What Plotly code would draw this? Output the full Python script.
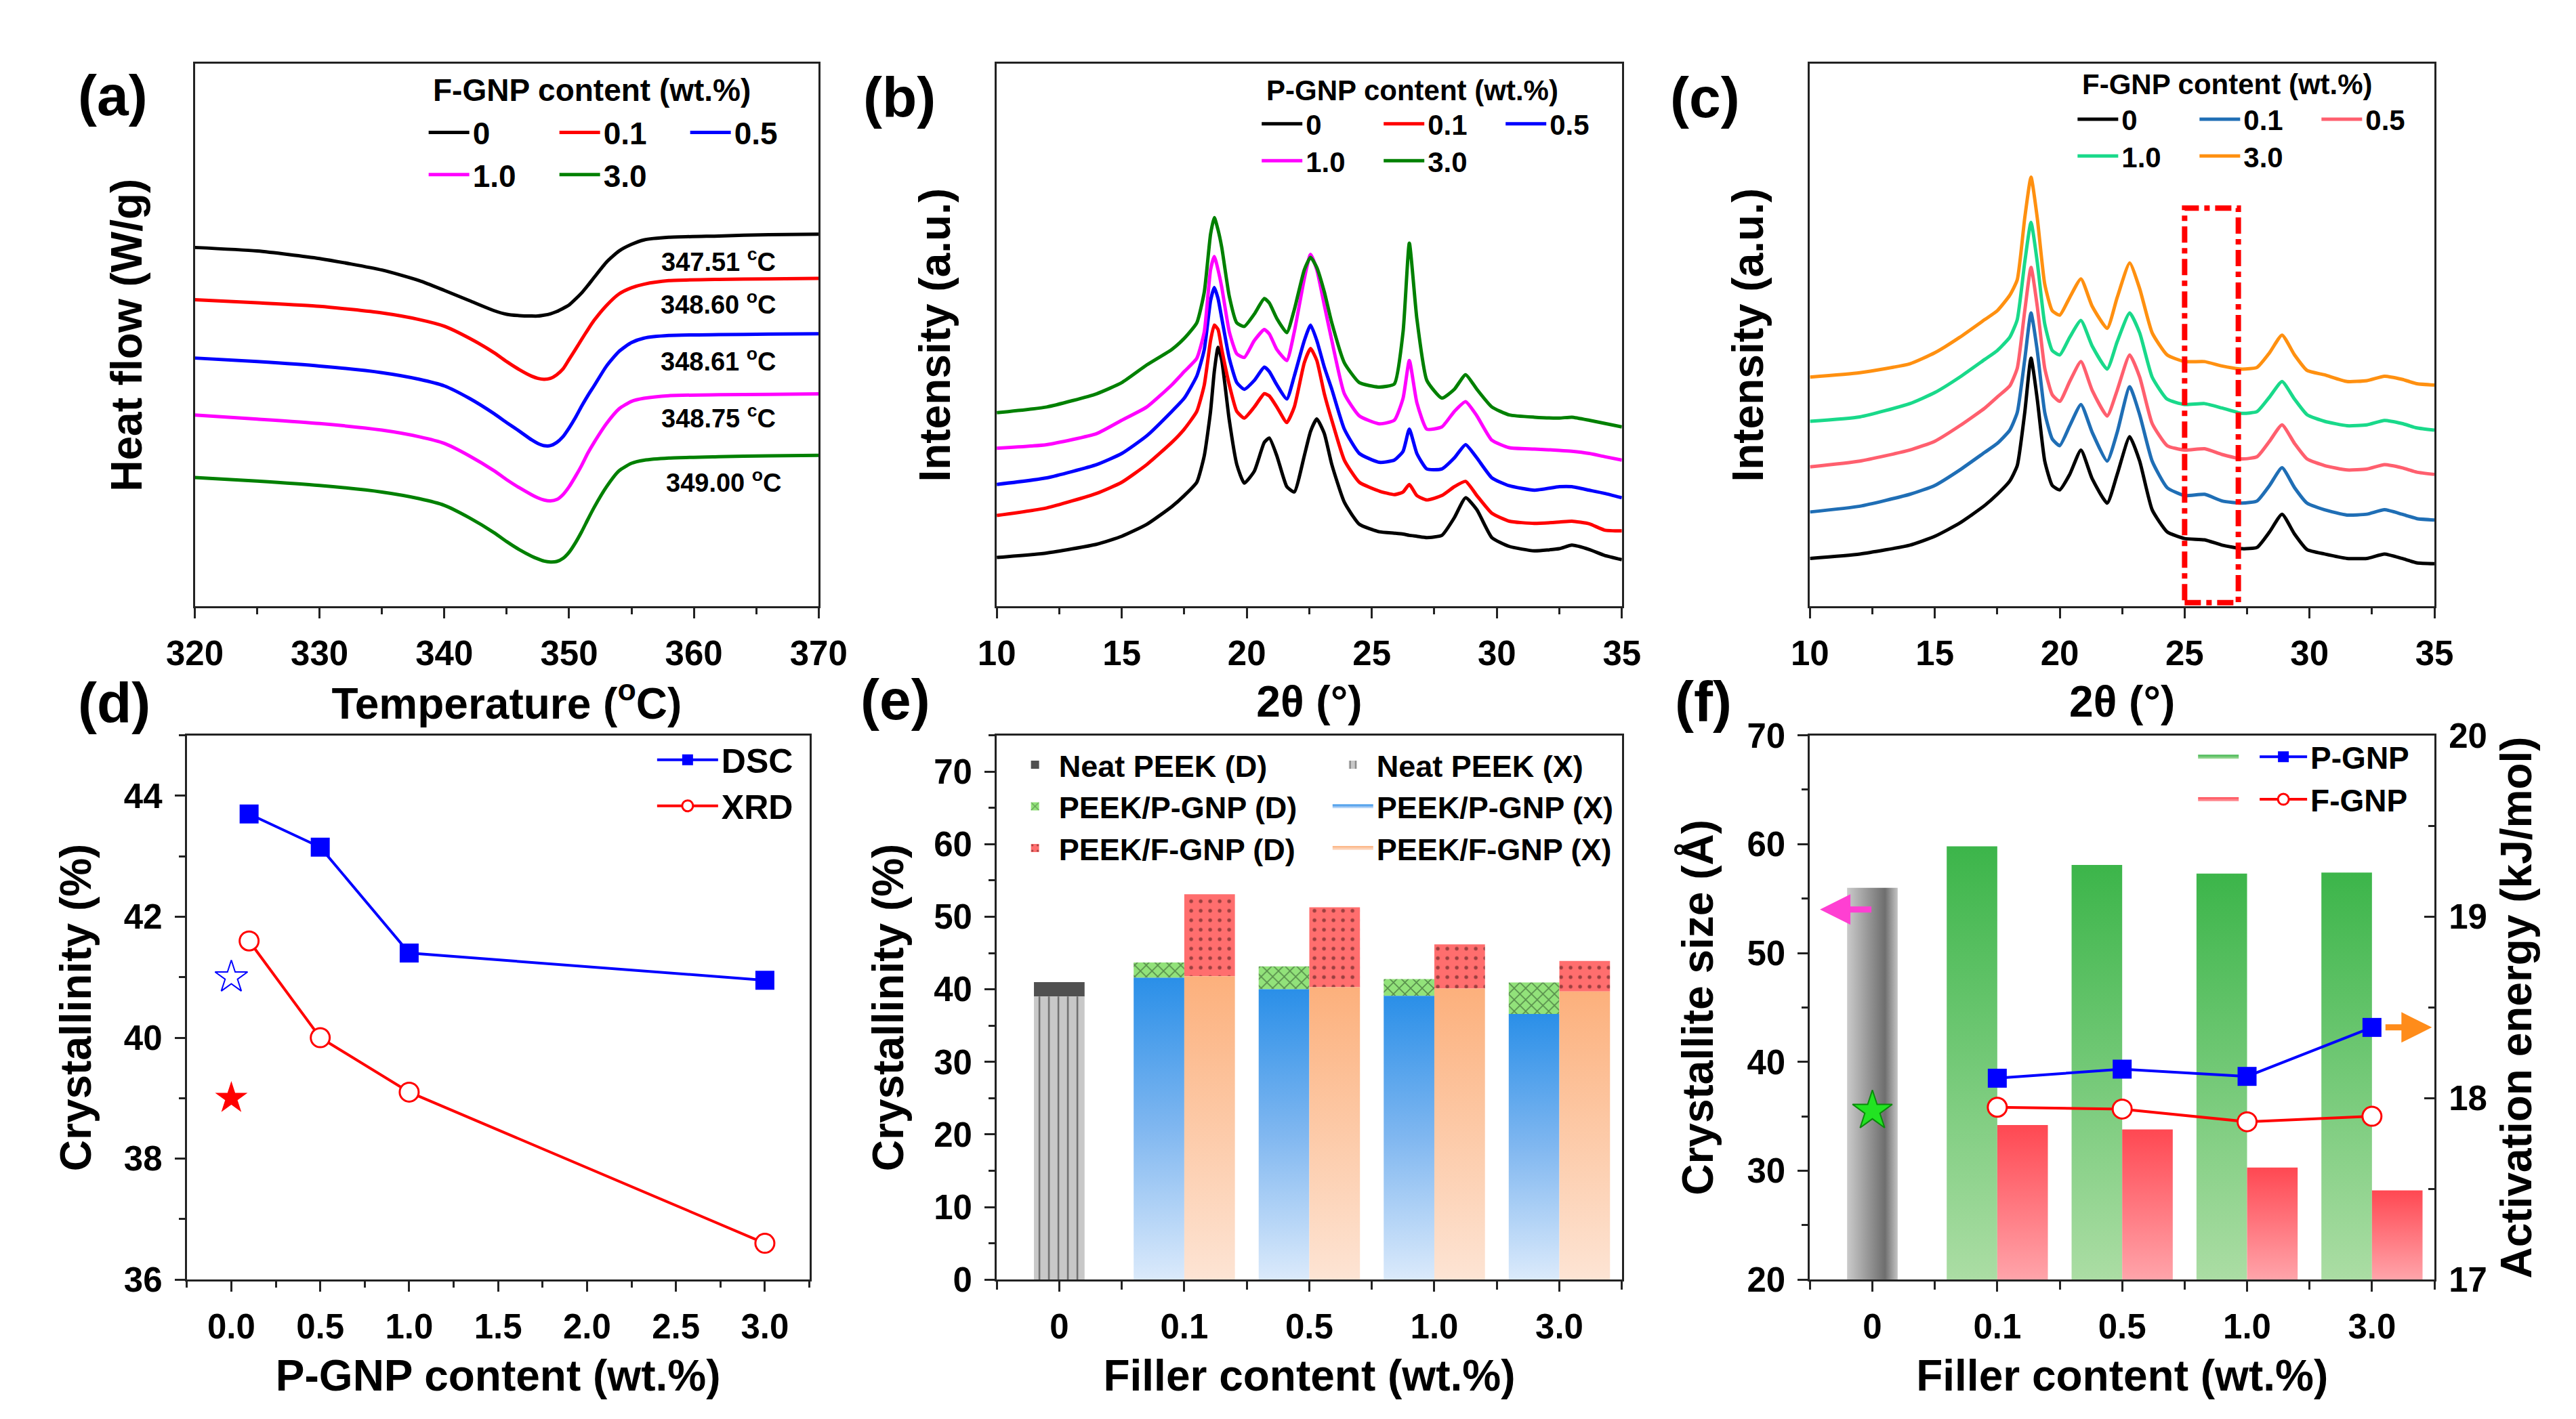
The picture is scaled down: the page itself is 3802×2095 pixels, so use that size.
import plotly.graph_objects as go

# ---------------- (a) DSC melting curves (heat flow in arbitrary units) ----------------
dsc_temp = [320, 325, 330, 335, 338, 340, 342, 344, 345, 346, 347, 347.5, 348, 348.5,
            349, 349.5, 350, 350.5, 351, 351.5, 352, 353, 354, 355, 356, 358, 362, 366, 370]
dsc_0 = [811, 803, 786, 760, 736, 714, 691, 668, 660, 657, 656, 656, 658, 661,
         666, 673, 681, 694, 708, 725, 743, 778, 803, 818, 828, 834, 837, 840, 841]
dsc_01 = [693, 686, 678, 663, 648, 633, 606, 573, 553, 535, 520, 515, 513, 515,
          523, 536, 558, 580, 603, 625, 646, 680, 706, 720, 728, 736, 739, 740, 741]
dsc_05 = [561, 553, 543, 528, 513, 498, 470, 435, 415, 396, 376, 368, 363, 363,
          370, 383, 403, 426, 452, 476, 498, 543, 576, 596, 606, 612, 614, 615, 616]
dsc_10 = [432, 423, 413, 398, 383, 368, 340, 306, 286, 268, 252, 245, 240, 238,
          241, 252, 270, 293, 318, 346, 370, 413, 446, 463, 470, 476, 478, 479, 480]
dsc_30 = [291, 283, 273, 258, 243, 228, 200, 166, 146, 128, 113, 107, 102, 100,
          101, 108, 122, 143, 168, 196, 223, 270, 306, 323, 330, 335, 338, 340, 341]
dsc_peak_labels = ["347.51 <sup>c</sup>C", "348.60 <sup>o</sup>C", "348.61 <sup>o</sup>C",
                   "348.75 <sup>c</sup>C", "349.00 <sup>o</sup>C"]
dsc_label_x = [362.0, 362.0, 362.0, 362.0, 362.4]
dsc_label_y = [783, 686, 558, 428, 283]

# ---------------- (b) XRD, P-GNP ----------------
xrd_p_2t = [10, 12, 14, 15, 16, 17, 17.5, 18, 18.3, 18.55, 18.7, 18.85, 19.0, 19.3, 19.6, 19.9,
            20.3, 20.7, 20.9, 21.2, 21.6, 21.9, 22.3, 22.55, 22.8, 23.1, 23.4, 23.9, 24.5, 25.3,
            25.9, 26.25, 26.5, 26.8, 27.2, 27.8, 28.3, 28.75, 29.2, 29.8, 30.5, 31.5, 32.5, 33.0,
            33.7, 34.3, 35]
xrd_p_0 = [110, 120, 140, 158, 185, 225, 250, 280, 340, 440, 530, 585, 555, 420, 320, 278,
           305, 370, 380, 340, 270, 258, 340, 395, 423, 390, 320, 235, 185, 168,
           165, 163, 160, 158, 155, 160, 200, 245, 218, 155, 135, 125, 130, 138, 128, 115, 105]
xrd_p_01 = [205, 222, 255, 280, 320, 370, 400, 440, 500, 600, 635, 625, 580, 500, 440, 425,
            450, 480, 475, 450, 415, 450, 550, 582, 555, 480, 420, 330, 280, 260,
            252, 258, 275, 250, 240, 250, 270, 282, 250, 210, 192, 187, 190, 192, 186, 172, 170]
xrd_p_05 = [275, 290, 320, 345, 385, 440, 470, 520, 580, 690, 720, 695, 650, 560, 505, 490,
            510, 540, 530, 500, 468, 520, 600, 635, 600, 540, 490, 400, 345, 325,
            330, 350, 400, 345, 310, 310, 335, 365, 335, 290, 272, 262, 270, 270, 262, 255, 245]
xrd_p_10 = [357, 365, 390, 420, 450, 500, 530, 560, 620, 760, 790, 760, 720, 620, 570, 562,
            600, 625, 615, 580, 555, 620, 740, 795, 760, 680, 600, 480, 430, 412,
            420, 470, 555, 460, 400, 405, 440, 462, 430, 375, 358, 355, 352, 350, 345, 338, 330]
xrd_p_30 = [437, 450, 480, 505, 545, 580, 605, 640, 710, 840, 878, 850, 810, 700, 640, 632,
            660, 695, 685, 650, 618, 670, 760, 788, 765, 710, 640, 550, 505, 495,
            502, 620, 820, 650, 510, 470, 490, 523, 490, 450, 432, 427, 425, 427, 420, 413, 405]

# ---------------- (c) XRD, F-GNP ----------------
xrd_f_2t = [10, 12, 14, 15, 16, 17, 17.5, 18, 18.3, 18.6, 18.85, 19.1, 19.4, 19.7, 20.0, 20.4,
            20.85, 21.3, 21.9, 22.3, 22.8, 23.2, 23.7, 24.3, 25, 25.8, 26.5, 27.3, 27.9, 28.4,
            28.9, 29.4, 29.9, 30.6, 31.5, 32.3, 33, 33.7, 34.3, 35]
xrd_f_0 = [108, 118, 138, 158, 188, 228, 253, 283, 318, 438, 561, 468, 328, 273, 263, 298,
           353, 288, 233, 298, 383, 328, 218, 168, 153, 150, 138, 130, 133, 168,
           208, 163, 128, 118, 108, 108, 118, 108, 98, 96]
xrd_f_01 = [213, 226, 253, 273, 308, 348, 368, 398, 438, 558, 663, 578, 438, 378, 363, 408,
            456, 393, 328, 393, 496, 433, 328, 268, 250, 253, 238, 233, 238, 273,
            313, 268, 233, 218, 206, 208, 218, 208, 198, 195]
xrd_f_05 = [315, 328, 353, 373, 408, 448, 473, 498, 538, 668, 766, 678, 538, 478, 463, 508,
            553, 488, 430, 488, 568, 518, 413, 363, 353, 356, 343, 333, 338, 373,
            410, 368, 333, 318, 308, 310, 320, 313, 303, 298]
xrd_f_10 = [418, 428, 458, 483, 518, 558, 578, 608, 648, 778, 868, 778, 638, 578, 568, 608,
            646, 588, 536, 598, 663, 618, 518, 468, 456, 458, 448, 436, 440, 473,
            508, 468, 433, 418, 408, 410, 420, 413, 403, 398]
xrd_f_30 = [518, 528, 548, 573, 608, 648, 668, 703, 738, 878, 970, 878, 728, 668, 658, 698,
            740, 678, 628, 698, 776, 718, 618, 568, 553, 553, 543, 536, 540, 573,
            613, 568, 533, 523, 508, 510, 520, 513, 503, 500]
box_2t = [25.0, 27.15]
box_int = [8, 900]

# ---------------- (d) crystallinity vs P-GNP content ----------------
pgnp_content = [0.1, 0.5, 1.0, 3.0]
pgnp_dsc = [43.7, 43.15, 41.4, 40.95]
pgnp_xrd = [41.6, 40.0, 39.1, 36.6]
neat_dsc = 41.0
neat_xrd = 39.0

# ---------------- (e) crystallinity bars ----------------
filler_labels = ["0", "0.1", "0.5", "1.0", "3.0"]
filler_pos = [0, 1, 2, 3, 4]
fgnp_dsc = [53.1, 51.3, 46.2, 43.9]
fgnp_xrd = [41.8, 40.3, 40.1, 39.7]

# ---------------- (f) crystallite size / activation energy ----------------
neat_size = 56.0
pgnp_size = [59.8, 58.1, 57.3, 57.4]
fgnp_size = [34.2, 33.8, 30.3, 28.2]
neat_ea = 17.93
pgnp_ea = [18.11, 18.16, 18.12, 18.39]
fgnp_ea = [17.95, 17.94, 17.87, 17.90]

# ---------------- styling ----------------
W, H = 3802, 2095
NARROW = "Liberation Sans Narrow, Arial Narrow, Liberation Sans, Arial"
SANS = "Liberation Sans, Arial"
tickfont = dict(family=NARROW, size=51, color="black", weight="bold")
xtitlefont = dict(family=SANS, size=64, color="black", weight="bold")
ytitlefont = dict(family=SANS, size=64, color="black", weight="bold")
bar_w = 0.405
size_floor = 20


def px_x(p):
    return p / W


def px_y(p):
    return 1 - p / H


def axis(**kw):
    ax = dict(showline=True, linecolor="#222", linewidth=3, mirror=True,
              ticks="outside", ticklen=15, tickwidth=3, tickcolor="#222",
              showgrid=False, zeroline=False, tickfont=tickfont, ticklabelstandoff=8)
    ax.update(kw)
    return ax


fig = go.Figure()

# (a)
a_colors = ["#000000", "#ff0000", "#0000ff", "#ff00ff", "#008000"]
a_names = ["0", "0.1", "0.5", "1.0", "3.0"]
for i, ys in enumerate([dsc_0, dsc_01, dsc_05, dsc_10, dsc_30]):
    fig.add_trace(go.Scatter(x=dsc_temp, y=ys, name=a_names[i], mode="lines",
                             line=dict(color=a_colors[i], width=5, shape="spline", smoothing=0.6),
                             xaxis="x", yaxis="y", legend="legend" if i < 3 else "legend2"))

# (b)
for i, ys in enumerate([xrd_p_0, xrd_p_01, xrd_p_05, xrd_p_10, xrd_p_30]):
    fig.add_trace(go.Scatter(x=xrd_p_2t, y=ys, name=a_names[i], mode="lines",
                             line=dict(color=a_colors[i], width=5, shape="spline", smoothing=0.5),
                             xaxis="x2", yaxis="y2", legend="legend3" if i < 3 else "legend4"))

# (c)
c_colors = ["#000000", "#1f6eb5", "#ff5f6e", "#19d98a", "#ff9010"]
for i, ys in enumerate([xrd_f_0, xrd_f_01, xrd_f_05, xrd_f_10, xrd_f_30]):
    fig.add_trace(go.Scatter(x=xrd_f_2t, y=ys, name=a_names[i], mode="lines",
                             line=dict(color=c_colors[i], width=5, shape="spline", smoothing=0.5),
                             xaxis="x3", yaxis="y3", legend="legend5" if i < 3 else "legend6"))

# (d)
fig.add_trace(go.Scatter(x=pgnp_content, y=pgnp_dsc, name="DSC", mode="lines+markers",
                         line=dict(color="#0000ff", width=4),
                         marker=dict(symbol="square", size=28, color="#0000ff"),
                         xaxis="x4", yaxis="y4", legend="legend7"))
fig.add_trace(go.Scatter(x=pgnp_content, y=pgnp_xrd, name="XRD", mode="lines+markers",
                         line=dict(color="#ff0000", width=4),
                         marker=dict(symbol="circle", size=28, color="white",
                                     line=dict(color="#ff0000", width=3)),
                         xaxis="x4", yaxis="y4", legend="legend7"))
fig.add_trace(go.Scatter(x=[0.0], y=[neat_dsc], mode="markers", showlegend=False,
                         marker=dict(symbol="star-open", size=36, color="#0000ff",
                                     line=dict(width=2)),
                         xaxis="x4", yaxis="y4"))
fig.add_trace(go.Scatter(x=[0.0], y=[neat_xrd], mode="markers", showlegend=False,
                         marker=dict(symbol="star", size=36, color="#ff0000"),
                         xaxis="x4", yaxis="y4"))


def bar_poly(left, width, bottom, top):
    return ([left, left, left + width, left + width, left],
            [bottom, top, top, bottom, bottom])


# (e) legend column 1: DSC segments
fig.add_trace(go.Bar(x=[filler_pos[0]], y=[neat_dsc - neat_xrd], base=[neat_xrd],
                     width=bar_w, offset=-bar_w / 2, name="Neat PEEK (D)",
                     marker=dict(color="#505050", line=dict(width=0)),
                     xaxis="x5", yaxis="y5", legend="legend8"))
fig.add_trace(go.Bar(x=filler_pos[1:], y=[d - x for d, x in zip(pgnp_dsc, pgnp_xrd)],
                     base=pgnp_xrd, width=bar_w, offset=-bar_w, name="PEEK/P-GNP (D)",
                     marker=dict(color="#92e27a", line=dict(width=0),
                                 pattern=dict(shape="x", fgcolor="#1d3a1d", size=12, solidity=0.25)),
                     xaxis="x5", yaxis="y5", legend="legend8"))
fig.add_trace(go.Bar(x=filler_pos[1:], y=[d - x for d, x in zip(fgnp_dsc, fgnp_xrd)],
                     base=fgnp_xrd, width=bar_w, offset=0, name="PEEK/F-GNP (D)",
                     marker=dict(color="#ff6e6e", line=dict(width=0),
                                 pattern=dict(shape=".", fgcolor="#3a1010", size=14, solidity=0.12)),
                     xaxis="x5", yaxis="y5", legend="legend8"))
# (e) legend column 2: XRD parts
fig.add_trace(go.Bar(x=[filler_pos[0]], y=[neat_xrd], width=bar_w, offset=-bar_w / 2,
                     name="Neat PEEK (X)",
                     marker=dict(color="#c8c8c8", line=dict(width=0),
                                 pattern=dict(shape="|", fgcolor="#111111", size=14, solidity=0.18)),
                     xaxis="x5", yaxis="y5", legend="legend9"))
for i, v in enumerate(pgnp_xrd):
    xs, ys = bar_poly(filler_pos[i + 1] - bar_w, bar_w, 0, v)
    fig.add_trace(go.Scatter(x=xs, y=ys, mode="none", fill="toself", name="PEEK/P-GNP (X)",
                             fillgradient=dict(type="vertical",
                                               colorscale=[[0, "#dbeafb"], [0.5, "#80b7f0"], [1, "#2a8fe8"]]),
                             showlegend=(i == 0), legendgroup="pgx", hoverinfo="skip",
                             xaxis="x5", yaxis="y5", legend="legend9"))
for i, v in enumerate(fgnp_xrd):
    xs, ys = bar_poly(filler_pos[i + 1], bar_w, 0, v)
    fig.add_trace(go.Scatter(x=xs, y=ys, mode="none", fill="toself", name="PEEK/F-GNP (X)",
                             fillgradient=dict(type="vertical",
                                               colorscale=[[0, "#fde4d4"], [1, "#fcb07c"]]),
                             showlegend=(i == 0), legendgroup="fgx", hoverinfo="skip",
                             xaxis="x5", yaxis="y5", legend="legend9"))

# (f) bars
xs, ys = bar_poly(filler_pos[0] - bar_w / 2, bar_w, size_floor, neat_size)
fig.add_trace(go.Scatter(x=xs, y=ys, mode="none", fill="toself", showlegend=False,
                         fillgradient=dict(type="horizontal",
                                           colorscale=[[0, "#cacaca"], [0.75, "#6e6e6e"], [1, "#c4c4c4"]]),
                         hoverinfo="skip", xaxis="x6", yaxis="y6"))
for i, v in enumerate(pgnp_size):
    xs, ys = bar_poly(filler_pos[i + 1] - bar_w, bar_w, size_floor, v)
    fig.add_trace(go.Scatter(x=xs, y=ys, mode="none", fill="toself", name=" ",
                             fillgradient=dict(type="vertical",
                                               colorscale=[[0, "#abdda4"], [1, "#3cb54a"]]),
                             showlegend=(i == 0), legendgroup="pgs", hoverinfo="skip",
                             xaxis="x6", yaxis="y6", legend="legend10"))
for i, v in enumerate(fgnp_size):
    xs, ys = bar_poly(filler_pos[i + 1], bar_w, size_floor, v)
    fig.add_trace(go.Scatter(x=xs, y=ys, mode="none", fill="toself", name=" ",
                             fillgradient=dict(type="vertical",
                                               colorscale=[[0, "#ffa4aa"], [1, "#ff4852"]]),
                             showlegend=(i == 0), legendgroup="fgs", hoverinfo="skip",
                             xaxis="x6", yaxis="y6", legend="legend10"))
# (f) activation energy lines
fig.add_trace(go.Scatter(x=filler_pos[1:], y=pgnp_ea, name="P-GNP", mode="lines+markers",
                         line=dict(color="#0000ff", width=4),
                         marker=dict(symbol="square", size=28, color="#0000ff"),
                         xaxis="x6", yaxis="y7", legend="legend11"))
fig.add_trace(go.Scatter(x=filler_pos[1:], y=fgnp_ea, name="F-GNP", mode="lines+markers",
                         line=dict(color="#ff0000", width=4),
                         marker=dict(symbol="circle", size=28, color="white",
                                     line=dict(color="#ff0000", width=3)),
                         xaxis="x6", yaxis="y7", legend="legend11"))
fig.add_trace(go.Scatter(x=[filler_pos[0]], y=[neat_ea], mode="markers", showlegend=False,
                         marker=dict(symbol="star", size=44, color="#22e322",
                                     line=dict(color="#0a8a0a", width=2)),
                         xaxis="x6", yaxis="y7"))

# ---------------- layout ----------------
col_a = [px_x(242), px_x(1184)]
col_b = [px_x(1453), px_x(2397)]
col_c = [px_x(2681), px_x(3624)]
col_d = [px_x(230), px_x(1170)]
row_top = [px_y(883), px_y(60)]
row_bot = [px_y(1905), px_y(1079)]

half_ticks = [-0.5, 0.5, 1.5, 2.5, 3.5, 4.5]
minor_out = dict(ticks="outside", ticklen=9, tickwidth=3, tickcolor="#222")

layout = dict(
    width=W, height=H, margin=dict(l=0, r=0, t=0, b=0),
    paper_bgcolor="white", plot_bgcolor="white",
    font=dict(family=SANS, color="black"),
    barmode="overlay",
    xaxis=axis(domain=col_a, range=[320, 370], dtick=10, anchor="y",
               minor=dict(dtick=5, **minor_out),
               title=dict(text="Temperature (<sup>o</sup>C)", font=xtitlefont, standoff=22)),
    yaxis=axis(domain=row_top, range=[0, 1226], anchor="x", ticks="", showticklabels=False,
               title=dict(text="Heat flow (W/g)", font=ytitlefont, standoff=55)),
    xaxis2=axis(domain=col_b, range=[10, 35], dtick=5, anchor="y2",
                minor=dict(dtick=2.5, **minor_out),
                title=dict(text="2θ (°)", font=xtitlefont, standoff=22)),
    yaxis2=axis(domain=row_top, range=[0, 1225], anchor="x2", ticks="", showticklabels=False,
                title=dict(text="Intensity (a.u.)", font=ytitlefont, standoff=45)),
    xaxis3=axis(domain=col_c, range=[10, 35], dtick=5, anchor="y3",
                minor=dict(dtick=2.5, **minor_out),
                title=dict(text="2θ (°)", font=xtitlefont, standoff=22)),
    yaxis3=axis(domain=row_top, range=[0, 1226], anchor="x3", ticks="", showticklabels=False,
                title=dict(text="Intensity (a.u.)", font=ytitlefont, standoff=45)),
    xaxis4=axis(domain=col_d, range=[-0.25, 3.25], dtick=0.5, tick0=0, tickformat=".1f", anchor="y4",
                minor=dict(dtick=0.25, **minor_out),
                title=dict(text="P-GNP content (wt.%)", font=xtitlefont, standoff=22)),
    yaxis4=axis(domain=row_bot, range=[36, 45], tickvals=[36, 38, 40, 42, 44], anchor="x4",
                minor=dict(tickvals=[37, 39, 41, 43, 45], **minor_out),
                title=dict(text="Crystallinity (%)", font=ytitlefont, standoff=28)),
    xaxis5=axis(domain=col_b, range=[-0.5, 4.5], tickvals=filler_pos, ticktext=filler_labels, anchor="y5",
                minor=dict(tickvals=half_ticks, ticks="outside", ticklen=12, tickwidth=3, tickcolor="#222"),
                title=dict(text="Filler content (wt.%)", font=xtitlefont, standoff=22)),
    yaxis5=axis(domain=row_bot, range=[0, 75], dtick=10, anchor="x5",
                minor=dict(dtick=5, **minor_out),
                title=dict(text="Crystallinity (%)", font=ytitlefont, standoff=24)),
    xaxis6=axis(domain=col_c, range=[-0.5, 4.5], tickvals=filler_pos, ticktext=filler_labels, anchor="y6",
                minor=dict(tickvals=half_ticks, ticks="outside", ticklen=12, tickwidth=3, tickcolor="#222"),
                title=dict(text="Filler content (wt.%)", font=xtitlefont, standoff=22)),
    yaxis6=axis(domain=row_bot, range=[20, 70], dtick=10, anchor="x6", mirror=False,
                minor=dict(dtick=5, **minor_out),
                title=dict(text="Crystallite size (Å)", font=ytitlefont, standoff=30)),
    yaxis7=axis(domain=row_bot, range=[17, 20], dtick=1, anchor="x6", overlaying="y6", side="right",
                mirror=False, ticks="inside",
                minor=dict(dtick=0.5, ticks="inside", ticklen=9, tickwidth=3, tickcolor="#222"),
                title=dict(text="Activation energy (kJ/mol)", font=ytitlefont, standoff=22)),
)


def legend_box(x, y, size, orientation="h", entrywidth=None, itemwidth=60):
    d = dict(x=x, y=y, xanchor="left", yanchor="middle", orientation=orientation,
             bgcolor="rgba(0,0,0,0)", borderwidth=0, itemwidth=itemwidth,
             font=dict(family=NARROW, size=size, color="black", weight="bold"),
             tracegroupgap=0)
    if entrywidth is not None:
        d["entrywidth"] = entrywidth
    return d


layout["legend"] = legend_box(px_x(590), px_y(164), 46, entrywidth=118)
layout["legend2"] = legend_box(px_x(590), px_y(228), 46, entrywidth=118)
layout["legend3"] = legend_box(px_x(1848), px_y(151), 42, entrywidth=105)
layout["legend4"] = legend_box(px_x(1848), px_y(207), 42, entrywidth=105)
layout["legend5"] = legend_box(px_x(3080), px_y(144), 42, entrywidth=105)
layout["legend6"] = legend_box(px_x(3080), px_y(200), 42, entrywidth=105)
layout["legend7"] = legend_box(px_x(935), px_y(1151), 50, orientation="v", itemwidth=90)
layout["legend8"] = legend_box(px_x(1475), px_y(1187), 45, orientation="v")
layout["legend9"] = legend_box(px_x(1955), px_y(1187), 45, orientation="v")
layout["legend10"] = legend_box(px_x(3262), px_y(1144), 46, orientation="v")
layout["legend11"] = legend_box(px_x(3355), px_y(1144), 46, orientation="v", itemwidth=70)

annotations = []
panel_labels = [("(a)", 118, 108), ("(b)", 1306, 111), ("(c)", 2523, 111),
                ("(d)", 120, 1030), ("(e)", 1300, 1025), ("(f)", 2520, 1028)]
for txt, x, y in panel_labels:
    annotations.append(dict(text=txt, x=px_x(x), y=px_y(y), xref="paper", yref="paper",
                            showarrow=False, xanchor="center", yanchor="middle",
                            font=dict(family=SANS, size=84, color="black", weight="bold")))
for txt, x, y in zip(dsc_peak_labels, dsc_label_x, dsc_label_y):
    annotations.append(dict(text=txt, x=x, y=y, xref="x", yref="y", showarrow=False,
                            xanchor="center", yanchor="middle",
                            font=dict(family=NARROW, size=38, color="black", weight="bold")))
legend_titles = [("F-GNP content (wt.%)", 600, 100, 46), ("P-GNP content (wt.%)", 1858, 100, 42),
                 ("F-GNP content (wt.%)", 3090, 91, 42)]
for txt, x, y, s in legend_titles:
    annotations.append(dict(text=txt, x=px_x(x), y=px_y(y), xref="paper", yref="paper",
                            showarrow=False, xanchor="left", yanchor="middle",
                            font=dict(family=NARROW, size=s, color="black", weight="bold")))
# (f) axis-pointing arrows
annotations.append(dict(x=-0.42, y=54, ax=0.0, ay=54, xref="x6", yref="y6", axref="x6", ayref="y6",
                        text="", showarrow=True, arrowhead=2, arrowsize=1, arrowwidth=9,
                        arrowcolor="#ff3fd2"))
annotations.append(dict(x=4.48, y=18.39, ax=4.1, ay=18.39, xref="x6", yref="y7", axref="x6", ayref="y7",
                        text="", showarrow=True, arrowhead=2, arrowsize=1, arrowwidth=9,
                        arrowcolor="#ff8c1a"))
layout["annotations"] = annotations

layout["shapes"] = [dict(type="rect", xref="x3", yref="y3", x0=box_2t[0], x1=box_2t[1],
                         y0=box_int[0], y1=box_int[1],
                         line=dict(color="#ff0000", width=8, dash="dashdot"))]

fig.update_layout(**layout)
fig.write_html("out.html")
